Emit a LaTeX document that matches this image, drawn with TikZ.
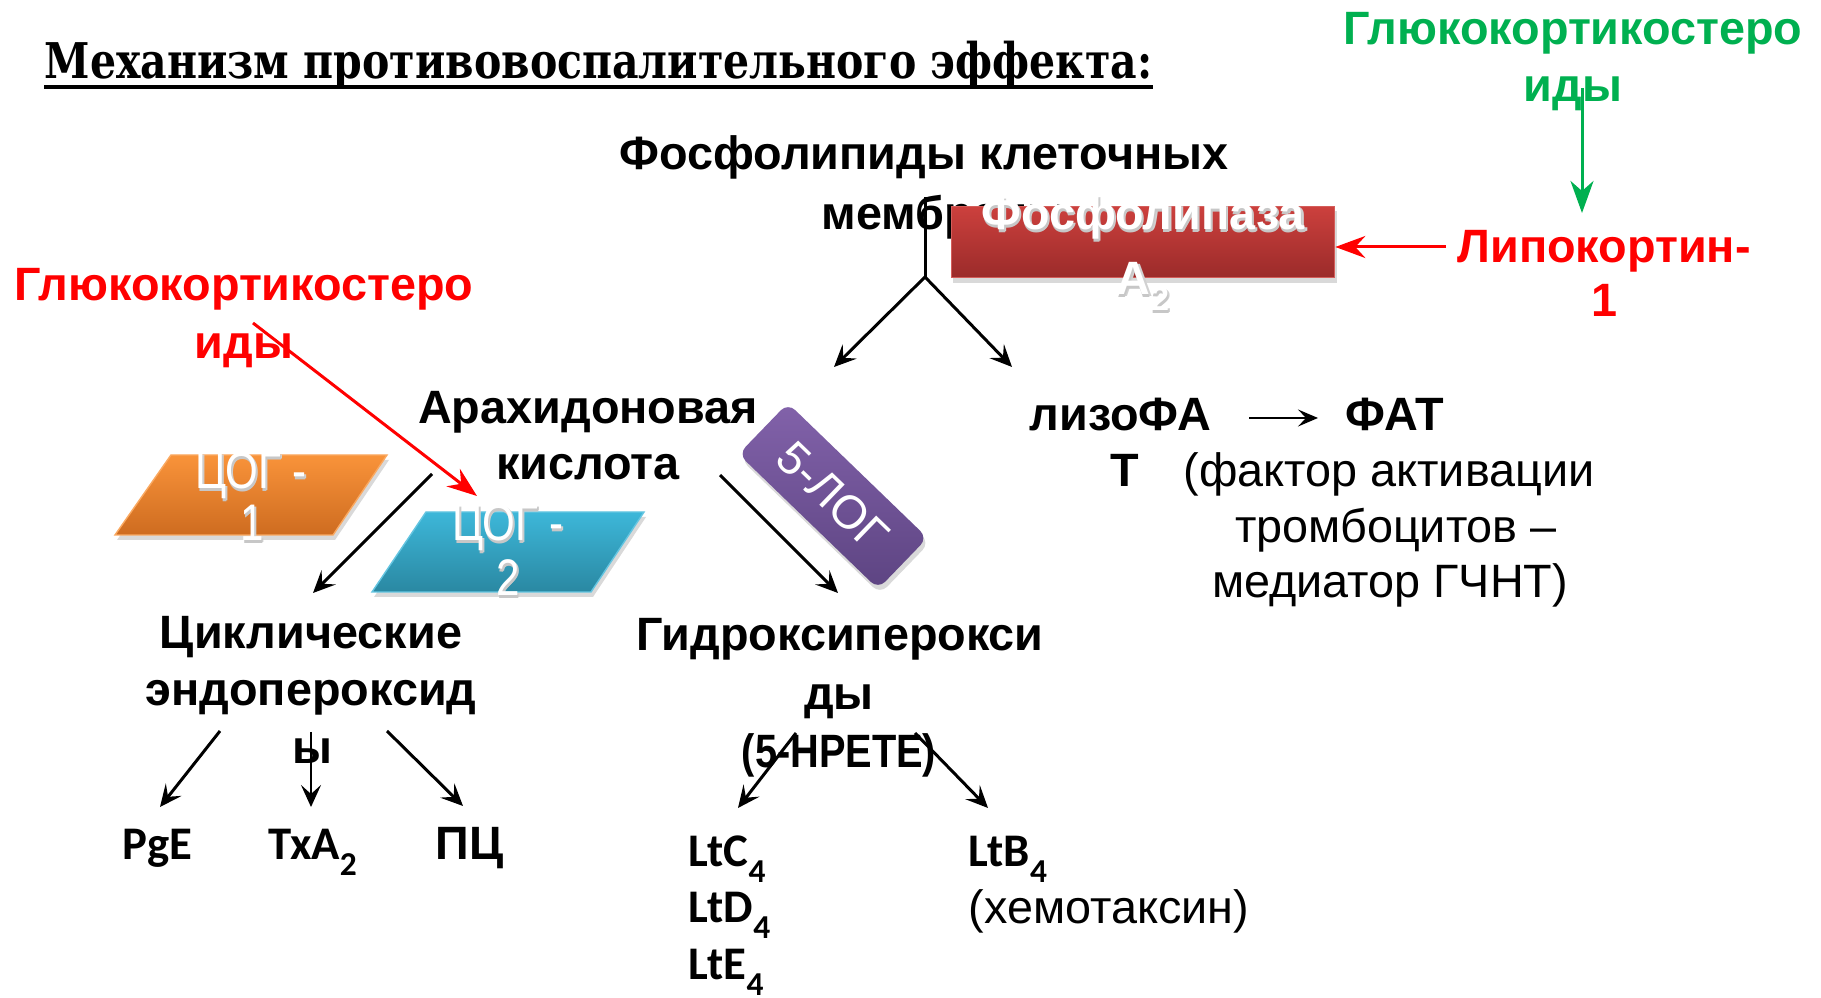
\documentclass[tikz,border=0pt]{standalone}
\usepackage{fontspec}
\usepackage{graphicx}
\usetikzlibrary{arrows.meta,shadows}
\newfontfamily\arl{Liberation Sans}
\newfontfamily\carl{Carlito}
\newfontfamily\ttlf{DejaVu Serif}
\newcommand\sbs[1]{\raisebox{-0.33em}{\fontsize{9.5}{10}\selectfont #1}}
\newcommand\shtext[1]{\makebox[0pt][l]{\kern0.022cm\raisebox{-0.02cm}{\color{black!18}#1}}\makebox[0pt][l]{\kern0.01cm\raisebox{-0.03cm}{\color{black!22}#1}}#1}
\definecolor{ggreen}{HTML}{00B050}
\definecolor{plaTop}{HTML}{CC403D}
\definecolor{plaBot}{HTML}{9B2B2A}
\definecolor{orTop}{HTML}{F9933A}
\definecolor{orBot}{HTML}{CE6C20}
\definecolor{blTop}{HTML}{3DB7D9}
\definecolor{blBot}{HTML}{2A88A2}
\definecolor{puTop}{HTML}{8262AA}
\definecolor{puBot}{HTML}{5D4482}
\begin{document}
\begin{tikzpicture}[x=0.01cm,y=-0.01cm,
  bt/.style={inner sep=0, anchor=base, font=\arl\bfseries\fontsize{13.3}{16}\selectfont},
  rt/.style={inner sep=0, anchor=base, font=\arl\fontsize{13.3}{16}\selectfont},
  ct/.style={inner sep=0, anchor=base west, font=\carl\bfseries\fontsize{13.3}{16}\selectfont},
  wt/.style={inner sep=0, anchor=base, text=white, font=\arl\fontsize{13.3}{16}\selectfont},
  barr/.style={line width=0.85pt, -{Stealth[length=0.22cm,width=0.2cm,inset=0.09cm]}},
  rarr/.style={red, line width=0.85pt, -{Stealth[length=0.3cm,width=0.22cm,inset=0.1cm]}},
  garr/.style={ggreen, line width=0.85pt, -{Stealth[length=0.32cm,width=0.23cm,inset=0.1cm]}},
  shd/.style={drop shadow={shadow xshift=0.02cm, shadow yshift=-0.05cm, opacity=0.3}}
]
\useasboundingbox (0,0) rectangle (1821,998);

% title
\node[anchor=base west, inner sep=0, font=\ttlf\bfseries\fontsize{14}{16}\selectfont] (title) at (44,79)
  {\resizebox{11.07cm}{\height}{Механизм противовоспалительного эффекта:}};
\draw[line width=0.04cm] ([yshift=-0.08cm]title.base west) -- ([yshift=-0.08cm]title.base east);

% green glucocorticoids
\node[bt, text=ggreen] (gg1) at (1573,45) {Глюкокортикостеро};
\node[bt, text=ggreen] (gg2) at (1573,102) {иды};
\coordinate (ga) at (1582,88);
\coordinate (gb) at (1582,213);
\draw[garr] (ga) -- (gb);

% lipocortin
\node[bt, text=red] (lip1) at (1604,263) {Липокортин-};
\node[bt, text=red] (lip2) at (1604,317) {1};

% phospholipids
\node[bt] (ph1) at (924,170) {Фосфолипиды клеточных};
\node[bt, anchor=base west] (ph2) at (821,230) {мембраны};

% phospholipase box
\node[minimum width=3.83cm, minimum height=0.71cm, inner sep=0, top color=plaTop, bottom color=plaBot,
  draw=plaTop!85!white, line width=0.4pt, shd] (pla) at (1143,242) {};
\node[bt, text=white] (pla1) at (1143,230) {\shtext{Фосфолипаза}};
\node[bt, text=white] (pla2) at (1143,295) {\shtext{A\sbs{2}}};
\coordinate (la) at (1446,247);
\draw[rarr] (la) -- (pla.east |- la);

% split
\coordinate (s0) at (925,197);
\coordinate (s1) at (925,277);
\coordinate (s2) at (834,367);
\coordinate (s3) at (1012,367);
\draw[line width=0.85pt] (s0) -- (s1);
\draw[barr] (s1) -- (s2);
\draw[barr] (s1) -- (s3);

% lyso-PAF
\node[bt, anchor=base west] (lz) at (1029,431) {лизоФА};
\node[bt, anchor=base west] (fat) at (1345,431) {ФАТ};
\coordinate (lza) at (1249,418);
\coordinate (lzb) at (1318,418);
\draw[line width=0.6pt, -{Stealth[length=0.2cm,width=0.17cm,inset=0.08cm]}] (lza) -- (lzb);
\node[bt, anchor=base west] (tt) at (1110,487) {Т};
\node[rt] (fa1) at (1389,487) {(фактор активации};
\node[rt] (fa2) at (1396,543) {тромбоцитов –};
\node[rt] (fa3) at (1390,598) {медиатор ГЧНТ)};

% COX shapes
\path[top color=orTop, bottom color=orBot, shd, draw=orTop!80!white, line width=0.4pt]
  (171,455) -- (387,455) -- (333,535) -- (115,535) -- cycle;
\node[wt] (c1a) at (251,489) {\shtext{\scalebox{0.9}[1.1]{ЦОГ -}}};
\node[wt] (c1b) at (252,541) {\shtext{\scalebox{0.9}[1.1]{1}}};
\path[top color=blTop, bottom color=blBot, shd, draw=blTop!80!white, line width=0.4pt]
  (426,512) -- (644,512) -- (591,592) -- (372,592) -- cycle;
\node[wt] (c2a) at (508,541) {\shtext{\scalebox{0.9}[1.1]{ЦОГ -}}};
\node[wt] (c2b) at (508,596) {\shtext{\scalebox{0.9}[1.1]{2}}};

% red glucocorticoids
\node[bt, text=red] (rg1) at (244,301) {Глюкокортикостеро};
\node[bt, text=red] (rg2) at (244,359) {иды};
\coordinate (ra) at (253,323);
\coordinate (rb) at (477,496);
\draw[rarr] (ra) -- (rb);

% arachidonic acid
\node[bt] (ar1) at (588,424) {Арахидоновая};
\node[bt] (ar2) at (588,480) {кислота};
\coordinate (aa) at (432,474);
\coordinate (ab) at (313,593);
\draw[barr] (aa) -- (ab);
\coordinate (ac) at (720,475);
\coordinate (ad) at (838,593);
\draw[barr] (ac) -- (ad);

% 5-LOX
\node[rotate=-44, minimum width=1.94cm, minimum height=0.71cm, inner sep=0, rounded corners=0.1cm,
  top color=puTop, bottom color=puBot, shd, text=white, font=\arl\fontsize{13.3}{16}\selectfont] (log) at (833,496) {5-ЛОГ};

% cyclic endoperoxides
\node[bt] (cy1) at (311,649) {Циклические};
\node[bt] (cy2) at (311,706) {эндопероксид};
\node[bt] (cy3) at (312,764) {ы};
\coordinate (e0) at (220,731);
\coordinate (e1) at (160,807);
\coordinate (e2) at (311,732);
\coordinate (e3) at (311,807);
\coordinate (e4) at (387,731);
\coordinate (e5) at (463,806);
\draw[barr] (e0) -- (e1);
\draw[barr] (e2) -- (e3);
\draw[barr] (e4) -- (e5);
\node[ct] (pge) at (122,860) {PgE};
\node[ct] (txa) at (268,860) {TxA\sbs{2}};
\node[bt, anchor=base west] (pc) at (435,860) {ПЦ};

% hydroperoxides
\node[bt] (hy1) at (840,651) {Гидроксиперокси};
\node[bt] (hy2) at (839,710) {ды};
\node[bt] (hy3) at (839,768) {\scalebox{0.85}[1]{(5-HPETE)}};
\coordinate (h0) at (796,733);
\coordinate (h1) at (738,808);
\coordinate (h2) at (915,733);
\coordinate (h3) at (988,808);
\draw[barr] (h0) -- (h1);
\draw[barr] (h2) -- (h3);
\node[ct] (ltc) at (688,867) {LtC\sbs{4}};
\node[ct] (ltd) at (688,923) {LtD\sbs{4}};
\node[ct] (lte) at (688,980) {LtE\sbs{4}};
\node[ct] (ltb) at (968,867) {LtB\sbs{4}};
\node[rt, anchor=base west] (hem) at (968,924) {(хемотаксин)};
\end{tikzpicture}
\end{document}
